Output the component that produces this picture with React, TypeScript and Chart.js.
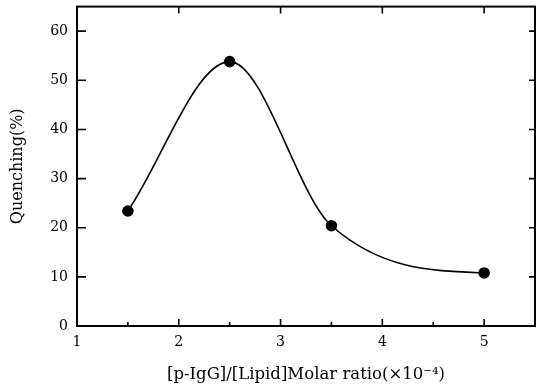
import React, { useEffect, useRef } from "react";
import { Chart, registerables } from "chart.js";

Chart.register(...registerables);

const ratios = [1.5, 2.5, 3.5, 5];
const quenching = [23.4, 53.8, 20.4, 10.8];
const xTickValues = [1, 2, 3, 4, 5];
const xMinorTickValues = [1.5, 2.5, 3.5, 4.5];
const yTickValues = [0, 10, 20, 30, 40, 50, 60];
const xTitle = "[p-IgG]/[Lipid]Molar ratio(×10⁻⁴)";
const yTitle = "Quenching(%)";

const FONT = "'DejaVu Serif', 'Liberation Serif', serif";

const framePlugin = {
  id: "frame",
  afterDraw(chart: any) {
    const { ctx, chartArea: a, scales } = chart;
    const x = scales.x;
    const y = scales.y;
    ctx.save();
    ctx.strokeStyle = "#000";
    ctx.lineWidth = 2;
    ctx.strokeRect(a.left, a.top, a.right - a.left, a.bottom - a.top);
    ctx.lineWidth = 1.6;
    ctx.beginPath();
    xTickValues.forEach((v) => {
      if (v <= x.min) return;
      const px = x.getPixelForValue(v);
      ctx.moveTo(px, a.bottom);
      ctx.lineTo(px, a.bottom - 7);
      ctx.moveTo(px, a.top);
      ctx.lineTo(px, a.top + 7);
    });
    xMinorTickValues.forEach((v) => {
      const px = x.getPixelForValue(v);
      ctx.moveTo(px, a.bottom);
      ctx.lineTo(px, a.bottom - 4);
    });
    yTickValues.forEach((v) => {
      if (v <= y.min) return;
      const py = y.getPixelForValue(v);
      ctx.moveTo(a.left, py);
      ctx.lineTo(a.left + 9, py);
      ctx.moveTo(a.right, py);
      ctx.lineTo(a.right - 6, py);
    });
    ctx.stroke();
    ctx.restore();
  },
};

// Flatten the tangent of the curve where it reaches the last point
const tailPlugin = {
  id: "tail",
  beforeDatasetDraw(chart: any, args: any) {
    const meta = args.meta;
    const line = meta.dataset;
    if (!line || !line.updateControlPoints) return;
    line.updateControlPoints(chart.chartArea, "x");
    const pts = meta.data;
    const last = pts[pts.length - 1];
    if (last) {
      last.cp1y = last.y - 2;
    }
    line._path = undefined;
  },
};

export default function App() {
  const ref = useRef<HTMLCanvasElement | null>(null);

  useEffect(() => {
    if (!ref.current) return;
    const chart = new Chart(ref.current, {
      type: "line",
      data: {
        datasets: [
          {
            data: ratios.map((r, i) => ({ x: r, y: quenching[i] })),
            borderColor: "#000",
            backgroundColor: "#000",
            borderWidth: 1.6,
            pointRadius: 5,
            pointBackgroundColor: "#000",
            pointBorderColor: "#000",
            cubicInterpolationMode: "monotone",
            fill: false,
          },
        ],
      },
      options: {
        animation: false,
        responsive: false,
        maintainAspectRatio: false,
        layout: { padding: { left: 0, top: 5, right: 8, bottom: 0 } },
        plugins: {
          legend: { display: false },
          tooltip: { enabled: false },
        },
        scales: {
          x: {
            type: "linear",
            min: 1,
            max: 5.5,
            grid: { display: false, drawTicks: false },
            border: { display: false },
            afterBuildTicks: (s: any) => {
              s.ticks = xTickValues.map((v) => ({ value: v }));
            },
            afterFit: (s: any) => {
              s.height = 64;
              s.paddingLeft = 0;
              s.paddingRight = 0;
            },
            ticks: {
              color: "#000",
              padding: 8,
              maxRotation: 0,
              font: { family: FONT, size: 14 },
              callback: (v: any) => String(v),
            },
            title: {
              display: true,
              text: xTitle,
              color: "#000",
              font: { family: FONT, size: 16.5 },
              padding: { top: 0, bottom: 5 },
            },
          },
          y: {
            type: "linear",
            min: 0,
            max: 65,
            grid: { display: false, drawTicks: false },
            border: { display: false },
            afterBuildTicks: (s: any) => {
              s.ticks = yTickValues.map((v) => ({ value: v }));
            },
            afterFit: (s: any) => {
              s.width = 77;
              s.paddingTop = 0;
              s.paddingBottom = 0;
            },
            ticks: {
              color: "#000",
              padding: 9,
              font: { family: FONT, size: 14 },
              callback: (v: any) => String(v),
            },
            title: {
              display: true,
              text: yTitle,
              color: "#000",
              font: { family: FONT, size: 16 },
              padding: { top: 8, bottom: 0 },
            },
          },
        },
      },
      plugins: [framePlugin, tailPlugin],
    });
    return () => chart.destroy();
  }, []);

  return (
    <div style={{ position: "absolute", left: 0, top: 0, width: 543, height: 390, background: "#fff" }}>
      <canvas ref={ref} width={543} height={390} style={{ width: 543, height: 390 }} />
    </div>
  );
}
